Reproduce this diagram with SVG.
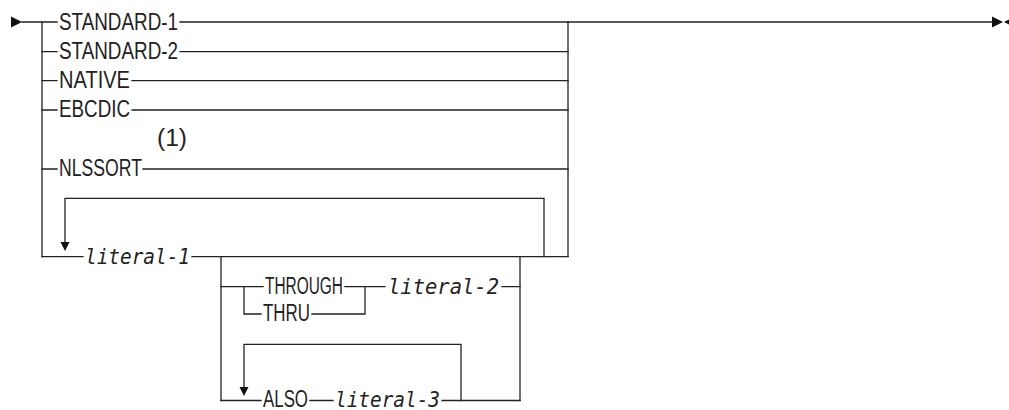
<svg xmlns="http://www.w3.org/2000/svg" width="1009" height="410" viewBox="0 0 1009 410">
<style>
.ln{fill:none;stroke:#222;stroke-width:1.3;stroke-linecap:square}
.ah{fill:#111;stroke:none}
.kw{font-family:"Liberation Sans",Arial,sans-serif;font-size:23px;fill:#222}
.it{font-family:"DejaVu Sans Mono","Liberation Mono",monospace;font-style:italic;font-size:21px;fill:#222}
</style>
<rect width="1009" height="410" fill="#fff"/>
<g id="connectors">
<polygon class="ah" points="11,16.5 22,22 11,27.5"/>
<path class="ln" d="M22,22 H57 M180,22 H568 M568,22 H992"/>
<polygon class="ah" points="992,16.5 1003,22 992,27.5"/>
<polygon class="ah" points="1004,22 1014,17 1014,27"/>
<path class="ln" d="M42,22 V256.7 M568,22 V256.7"/>
<path class="ln" d="M42,51.7 H57 M180,51.7 H568"/>
<path class="ln" d="M42,80.7 H57 M132,80.7 H568"/>
<path class="ln" d="M42,110 H57 M132,110 H568"/>
<path class="ln" d="M42,169 H57 M143,169 H568"/>
<path class="ln" d="M42,256.7 H83 M192,256.7 H568"/>
<path class="ln" d="M65,243 V198.3 H544 V256.7"/>
<polygon class="ah" points="60.5,242 69.5,242 65,251"/>
<path class="ln" d="M221,256.7 V400.5 M520,256.7 V400.5"/>
<path class="ln" d="M221,286.7 H263 M345,286.7 H385 M502,286.7 H520"/>
<path class="ln" d="M244,286.7 V314 H261 M312,314 H365 V286.7"/>
<path class="ln" d="M221,400.5 H261 M310,400.5 H333 M442,400.5 H520"/>
<path class="ln" d="M244,387 V344.3 H461 V400.5"/>
<polygon class="ah" points="239.5,387 248.5,387 244,396"/>
</g>
<g id="standard-1"><text class="kw" x="59" y="29.5" textLength="119" lengthAdjust="spacingAndGlyphs">STANDARD-1</text></g>
<g id="standard-2"><text class="kw" x="59" y="58.5" textLength="119" lengthAdjust="spacingAndGlyphs">STANDARD-2</text></g>
<g id="native"><text class="kw" x="59" y="87.5" textLength="71" lengthAdjust="spacingAndGlyphs">NATIVE</text></g>
<g id="ebcdic"><text class="kw" x="59" y="117" textLength="71" lengthAdjust="spacingAndGlyphs">EBCDIC</text></g>
<g id="note"><text class="kw" x="157" y="146" textLength="30" lengthAdjust="spacingAndGlyphs">(1)</text></g>
<g id="nlssort"><text class="kw" x="59" y="176" textLength="83" lengthAdjust="spacingAndGlyphs">NLSSORT</text></g>
<g id="literal-1"><text class="it" x="85" y="263.5" textLength="105" lengthAdjust="spacingAndGlyphs">literal-1</text></g>
<g id="through"><text class="kw" x="265" y="293.5" textLength="78" lengthAdjust="spacingAndGlyphs">THROUGH</text></g>
<g id="literal-2"><text class="it" x="388" y="293.5" textLength="111" lengthAdjust="spacingAndGlyphs">literal-2</text></g>
<g id="thru"><text class="kw" x="263" y="321" textLength="47" lengthAdjust="spacingAndGlyphs">THRU</text></g>
<g id="also"><text class="kw" x="263" y="407" textLength="45" lengthAdjust="spacingAndGlyphs">ALSO</text></g>
<g id="literal-3"><text class="it" x="335" y="407" textLength="105" lengthAdjust="spacingAndGlyphs">literal-3</text></g>
</svg>
